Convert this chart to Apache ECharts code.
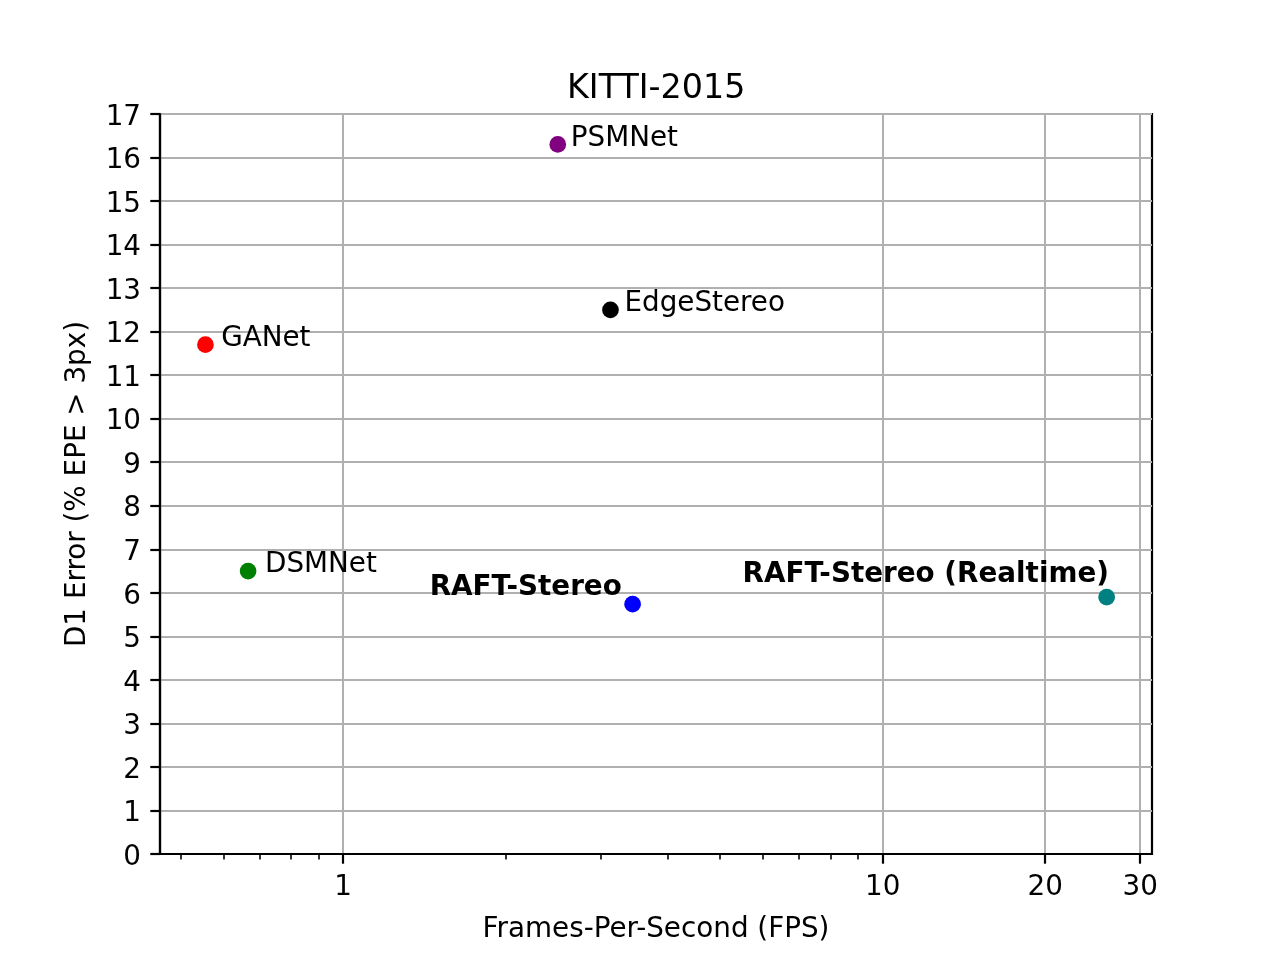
<!DOCTYPE html>
<html><head><meta charset="utf-8">
<script src="https://cdn.jsdelivr.net/npm/echarts@6/dist/echarts.min.js"></script>
<style>html,body{margin:0;padding:0;background:#fff}#c{width:1280px;height:960px}</style>
</head><body><div id="c"></div>
<script>
// ---- data ----
const models = ['GANet', 'DSMNet', 'PSMNet', 'EdgeStereo', 'RAFT-Stereo', 'RAFT-Stereo (Realtime)'];
const fps = [0.556, 0.667, 2.5, 3.13, 3.44, 26];
const d1Error = [11.7, 6.5, 16.3, 12.5, 5.74, 5.9];
const xMajorTicks = [1, 10, 20, 30];
const xMinorTicks = [0.5, 0.6, 0.7, 0.8, 0.9, 2, 3, 4, 5, 6, 7, 8, 9];
const titleText = 'KITTI-2015';
const xName = 'Frames-Per-Second (FPS)';
const yName = 'D1 Error (% EPE > 3px)';

// ---- styles ----
const pointColors = ['#ff0000', '#008000', '#800080', '#000000', '#0000ff', '#008080'];
const labelStyles = [
  { offset: [15.7, -6], align: 'left', bold: false },
  { offset: [16.9, -6.5], align: 'left', bold: false },
  { offset: [13.0, -6], align: 'left', bold: false },
  { offset: [14.0, -6.5], align: 'left', bold: false },
  { offset: [-10.8, -16.5], align: 'right', bold: true },
  { offset: [2.3, -22], align: 'right', bold: true }
];
const FONT = 'DejaVu Sans';
const FS = 27.8;
const XMIN = 0.458, XMAX = 31.55;

const lg = v => Math.log10(v);
const fmt = v => String(Math.round(Math.pow(10, v)));

const seriesData = models.map((m, i) => ({
  name: m,
  value: [lg(fps[i]), d1Error[i]],
  itemStyle: { color: pointColors[i], opacity: 1 },
  label: {
    show: true,
    formatter: '{b}',
    position: ['50%', '50%'],
    offset: labelStyles[i].offset,
    align: labelStyles[i].align,
    verticalAlign: 'middle',
    color: '#000',
    opacity: 1,
    fontFamily: FONT,
    fontSize: FS,
    fontWeight: labelStyles[i].bold ? 'bold' : 'normal'
  }
}));

const chart = echarts.init(document.getElementById('c'), null, { renderer: 'canvas' });
chart.setOption({
  animation: false,
  backgroundColor: '#fff',
  title: {
    text: titleText,
    left: 567,
    top: 73,
    padding: 0,
    textStyle: { fontFamily: FONT, fontSize: 33.3, fontWeight: 'normal', color: '#000' }
  },
  grid: {
    left: 160, right: 128, top: 114, bottom: 106,
    containLabel: false,
    show: true, borderColor: '#000', borderWidth: 2.2, backgroundColor: 'transparent'
  },
  xAxis: [
    {
      type: 'value',
      min: lg(XMIN), max: lg(XMAX),
      name: xName,
      nameLocation: 'middle',
      nameGap: 62,
      nameTextStyle: { fontFamily: FONT, fontSize: FS, color: '#000' },
      axisLine: { show: true, onZero: false, lineStyle: { color: '#000', width: 2.2 } },
      axisTick: { show: true, length: 9.7, lineStyle: { color: '#000', width: 2.2 },
                  customValues: xMajorTicks.map(lg) },
      axisLabel: { show: true, margin: 20, fontFamily: FONT, fontSize: FS, color: '#000',
                   customValues: xMajorTicks.map(lg), formatter: fmt, showMinLabel: true, showMaxLabel: true },
      splitLine: { show: true, lineStyle: { color: '#b0b0b0', width: 2 } }
    },
    {
      type: 'value',
      gridIndex: 0,
      position: 'bottom',
      min: lg(XMIN), max: lg(XMAX),
      axisLine: { show: false },
      axisTick: { show: true, length: 5.6, lineStyle: { color: '#000', width: 1.6 },
                  customValues: xMinorTicks.map(lg) },
      axisLabel: { show: false },
      splitLine: { show: false }
    }
  ],
  yAxis: {
    type: 'value',
    min: 0, max: 17, interval: 1,
    name: yName,
    nameLocation: 'middle',
    nameRotate: 90,
    nameGap: 68,
    nameTextStyle: { fontFamily: FONT, fontSize: FS, color: '#000' },
    axisLine: { show: true, onZero: false, lineStyle: { color: '#000', width: 2.2 } },
    axisTick: { show: true, length: 9.7, lineStyle: { color: '#000', width: 2.2 } },
    axisLabel: { margin: 19, fontFamily: FONT, fontSize: FS, color: '#000',
                 verticalAlign: 'top', lineHeight: 7 },
    splitLine: { show: true, lineStyle: { color: '#b0b0b0', width: 2 } }
  },
  series: [{
    type: 'scatter',
    xAxisIndex: 0,
    symbol: 'circle',
    symbolSize: 16.7,
    data: seriesData,
    emphasis: { disabled: true },
    z: 3
  }]
});
</script>
</body></html>
